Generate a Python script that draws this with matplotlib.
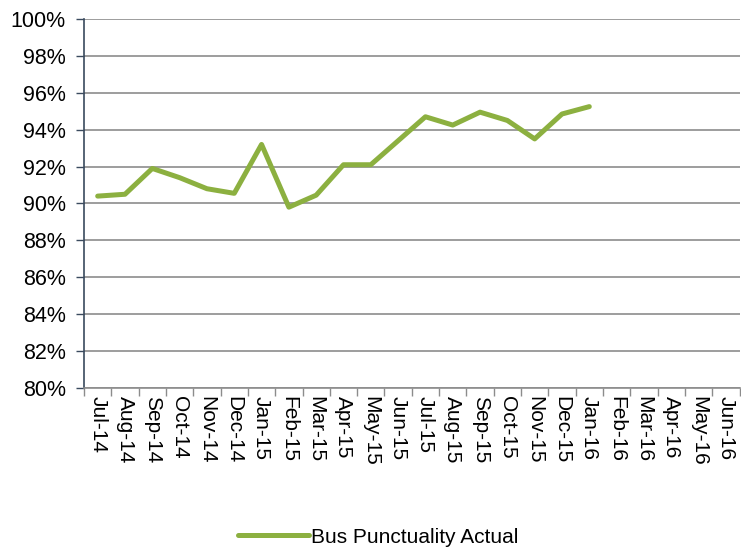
import matplotlib.pyplot as plt
import numpy as np
from matplotlib.ticker import FuncFormatter, FixedLocator

plt.rcParams['font.family'] = ['Liberation Sans', 'DejaVu Sans']

# Datos
meses = ['Jul-14', 'Aug-14', 'Sep-14', 'Oct-14', 'Nov-14', 'Dec-14', 'Jan-15', 'Feb-15',
         'Mar-15', 'Apr-15', 'May-15', 'Jun-15', 'Jul-15', 'Aug-15', 'Sep-15', 'Oct-15',
         'Nov-15', 'Dec-15', 'Jan-16', 'Feb-16', 'Mar-16', 'Apr-16', 'May-16', 'Jun-16']
puntualidad = [90.4, 90.5, 91.9, 91.4, 90.8, 90.55, 93.2, 89.8, 90.45, 92.1, 92.1, 93.4,
               94.7, 94.25, 94.95, 94.5, 93.5, 94.85, 95.25]

fig = plt.figure(figsize=(7.41, 5.47), dpi=100)
ax = fig.add_axes([0.1134, 0.2907, 0.8846, 0.6746])

x = np.arange(len(puntualidad))
ax.plot(x, puntualidad, color='#8CB040', linewidth=3.6, solid_capstyle='round',
        label='Bus Punctuality Actual')

ax.set_xlim(-0.5, len(meses) - 0.5)
ax.set_ylim(80, 100)
ax.set_yticks(np.arange(80, 101, 2))
ax.yaxis.set_major_formatter(FuncFormatter(lambda v, p: f'{v:.0f}%'))
ax.yaxis.grid(True, color='#8C8C8C', linewidth=1.2)
ax.set_axisbelow(True)

ax.set_xticks(np.arange(len(meses)))
ax.set_xticklabels(meses, rotation=-90, fontsize=15)
ax.xaxis.set_minor_locator(FixedLocator(np.arange(-0.5, len(meses), 1)))
ax.tick_params(axis='x', which='major', length=0, pad=6)
ax.tick_params(axis='x', which='minor', length=6, color='#8C8C8C', width=1)
ax.tick_params(axis='y', length=6, color='#3A4A5E', width=1, labelsize=15.5, pad=7)

for lado in ['top', 'right']:
    ax.spines[lado].set_visible(False)
ax.spines['left'].set_color('#3A4A5E')
ax.spines['left'].set_linewidth(1.2)
ax.spines['bottom'].set_color('#8C8C8C')
ax.spines['bottom'].set_linewidth(1.2)

fig.legend(loc='center', bbox_to_anchor=(0.51, 0.018), frameon=False, fontsize=15,
           handlelength=3.4, handletextpad=0.1)

plt.savefig('out.png', dpi=100)
